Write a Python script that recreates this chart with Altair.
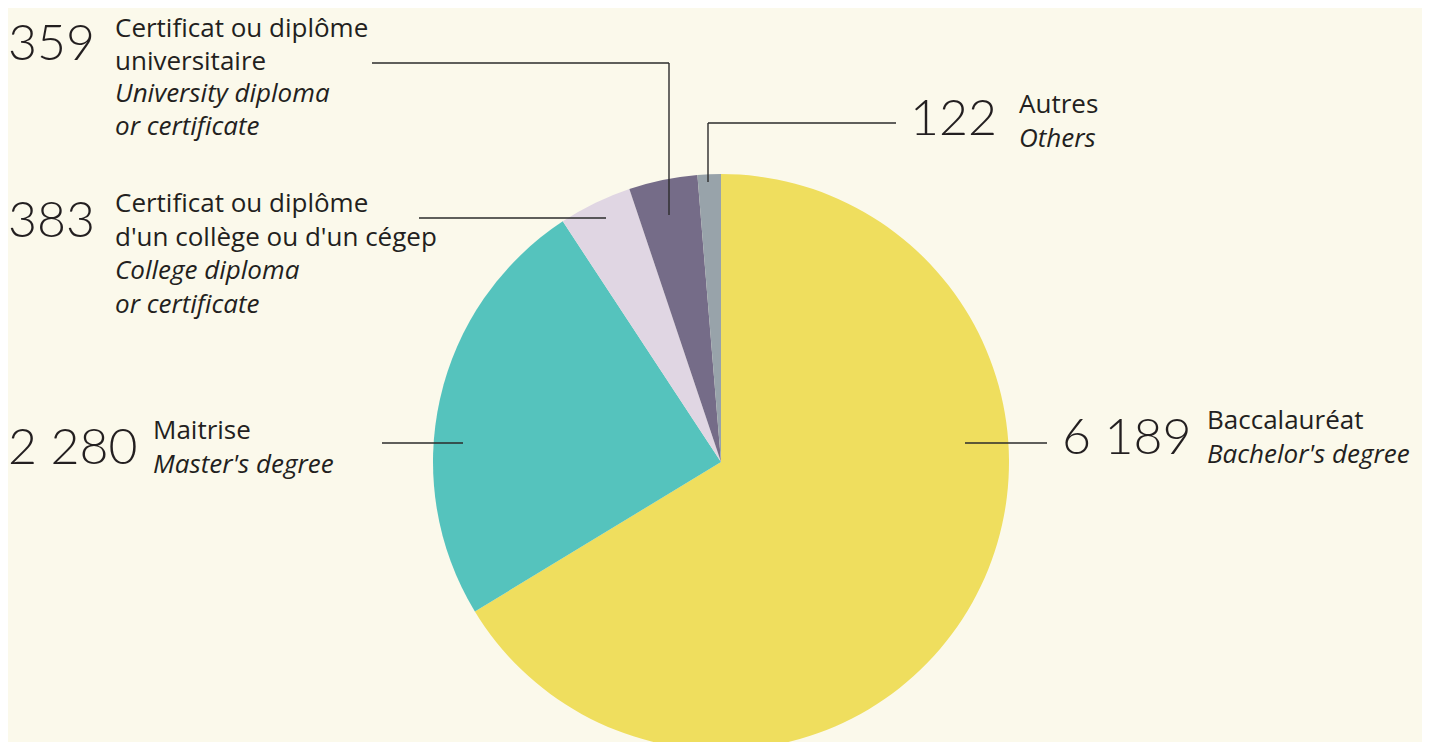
import altair as alt
import pandas as pd

# ---- data ----
categories = ["Baccalauréat", "Maitrise", "College", "University", "Autres"]
values = [6189, 2280, 383, 359, 122]
value_labels = ["6 189", "2 280", "383", "359", "122"]
labels_fr = [["Baccalauréat"], ["Maitrise"],
             ["Certificat ou diplôme", "d'un collège ou d'un cégep"],
             ["Certificat ou diplôme", "universitaire"], ["Autres"]]
labels_en = [["Bachelor's degree"], ["Master's degree"],
             ["College diploma", "or certificate"],
             ["University diploma", "or certificate"], ["Others"]]
colors = ["#EFDE5E", "#55C3BD", "#E0D6E3", "#756C88", "#98A3AA"]

# ---- layout (page pixels, shifted by the 8px page margin) ----
OFF = 8
CX, CY, R = 721 - OFF, 462 - OFF, 288
num_pos = [(1062, 454), (3, 464), (3, 237), (3, 60), (910, 135)]
lab_x = [1207, 153, 115, 115, 1019]
lab_y0 = [429, 439, 212, 37, 113]
LINE_H = [33.7, 33.7, 33.7, 32.5, 33.7]
segments = [
    [(965, 443, 1047, 443)],
    [(382, 443, 463, 443)],
    [(419, 218, 606, 218)],
    [(372, 63, 669, 63), (669, 63, 669, 215)],
    [(708, 123, 896, 123), (708, 123, 708, 182)],
]

pie_df = pd.DataFrame({"cat": categories, "value": values,
                       "idx": list(range(len(values)))})

num_rows = []
for lab, (x, y) in zip(value_labels, num_pos):
    num_rows.append({"text": lab, "x": max(x - OFF, 0), "y": y - OFF})
num_df = pd.DataFrame(num_rows)

lab_rows = []
for i in range(len(categories)):
    k = 0
    for t in labels_fr[i]:
        lab_rows.append({"text": t, "x": lab_x[i] - OFF,
                         "y": lab_y0[i] + k * LINE_H[i] - OFF, "it": 0})
        k += 1
    for t in labels_en[i]:
        lab_rows.append({"text": t, "x": lab_x[i] - OFF,
                         "y": lab_y0[i] + k * LINE_H[i] - OFF, "it": 1})
        k += 1
lab_df = pd.DataFrame(lab_rows)

seg_rows = []
for segs in segments:
    for (x1, y1, x2, y2) in segs:
        seg_rows.append({"x": x1 - OFF, "y": y1 - OFF,
                         "x2": x2 - OFF, "y2": y2 - OFF})
seg_df = pd.DataFrame(seg_rows)

NUM_FONT = "Lato"
LAB_FONT = "Open Sans"
TXT = "#231F20"

pie = alt.Chart(pie_df).mark_arc(radius=R, stroke=None).encode(
    theta=alt.Theta("value:Q", stack=True),
    color=alt.Color("cat:N", scale=alt.Scale(domain=categories, range=colors),
                    legend=None),
    order=alt.Order("idx:Q"),
    x=alt.value(CX),
    y=alt.value(CY),
)

rules = alt.Chart(seg_df).mark_rule(color="#2b2b2b", strokeWidth=1.4).encode(
    x=alt.X("x:Q", scale=None), y=alt.Y("y:Q", scale=None),
    x2="x2:Q", y2="y2:Q",
)

nums = alt.Chart(num_df).mark_text(
    font=NUM_FONT, fontSize=50, fontWeight=300, color=TXT,
    align="left", baseline="alphabetic",
).encode(x=alt.X("x:Q", scale=None), y=alt.Y("y:Q", scale=None), text="text:N")

fr = alt.Chart(lab_df).transform_filter("datum.it == 0").mark_text(
    font=LAB_FONT, fontSize=26, color=TXT, align="left", baseline="alphabetic",
).encode(x=alt.X("x:Q", scale=None), y=alt.Y("y:Q", scale=None), text="text:N")

en = alt.Chart(lab_df).transform_filter("datum.it == 1").mark_text(
    font=LAB_FONT, fontSize=26, fontStyle="italic", color=TXT, align="left",
    baseline="alphabetic",
).encode(x=alt.X("x:Q", scale=None), y=alt.Y("y:Q", scale=None), text="text:N")

chart = alt.layer(pie, rules, nums, fr, en).properties(
    width=1414, height=734,
    autosize=alt.AutoSizeParams(type="none"),
    padding=0,
    background="#FBF9EB",
).configure_view(stroke=None)

chart.save("out.html", embed_options={"renderer": "svg", "actions": False})
